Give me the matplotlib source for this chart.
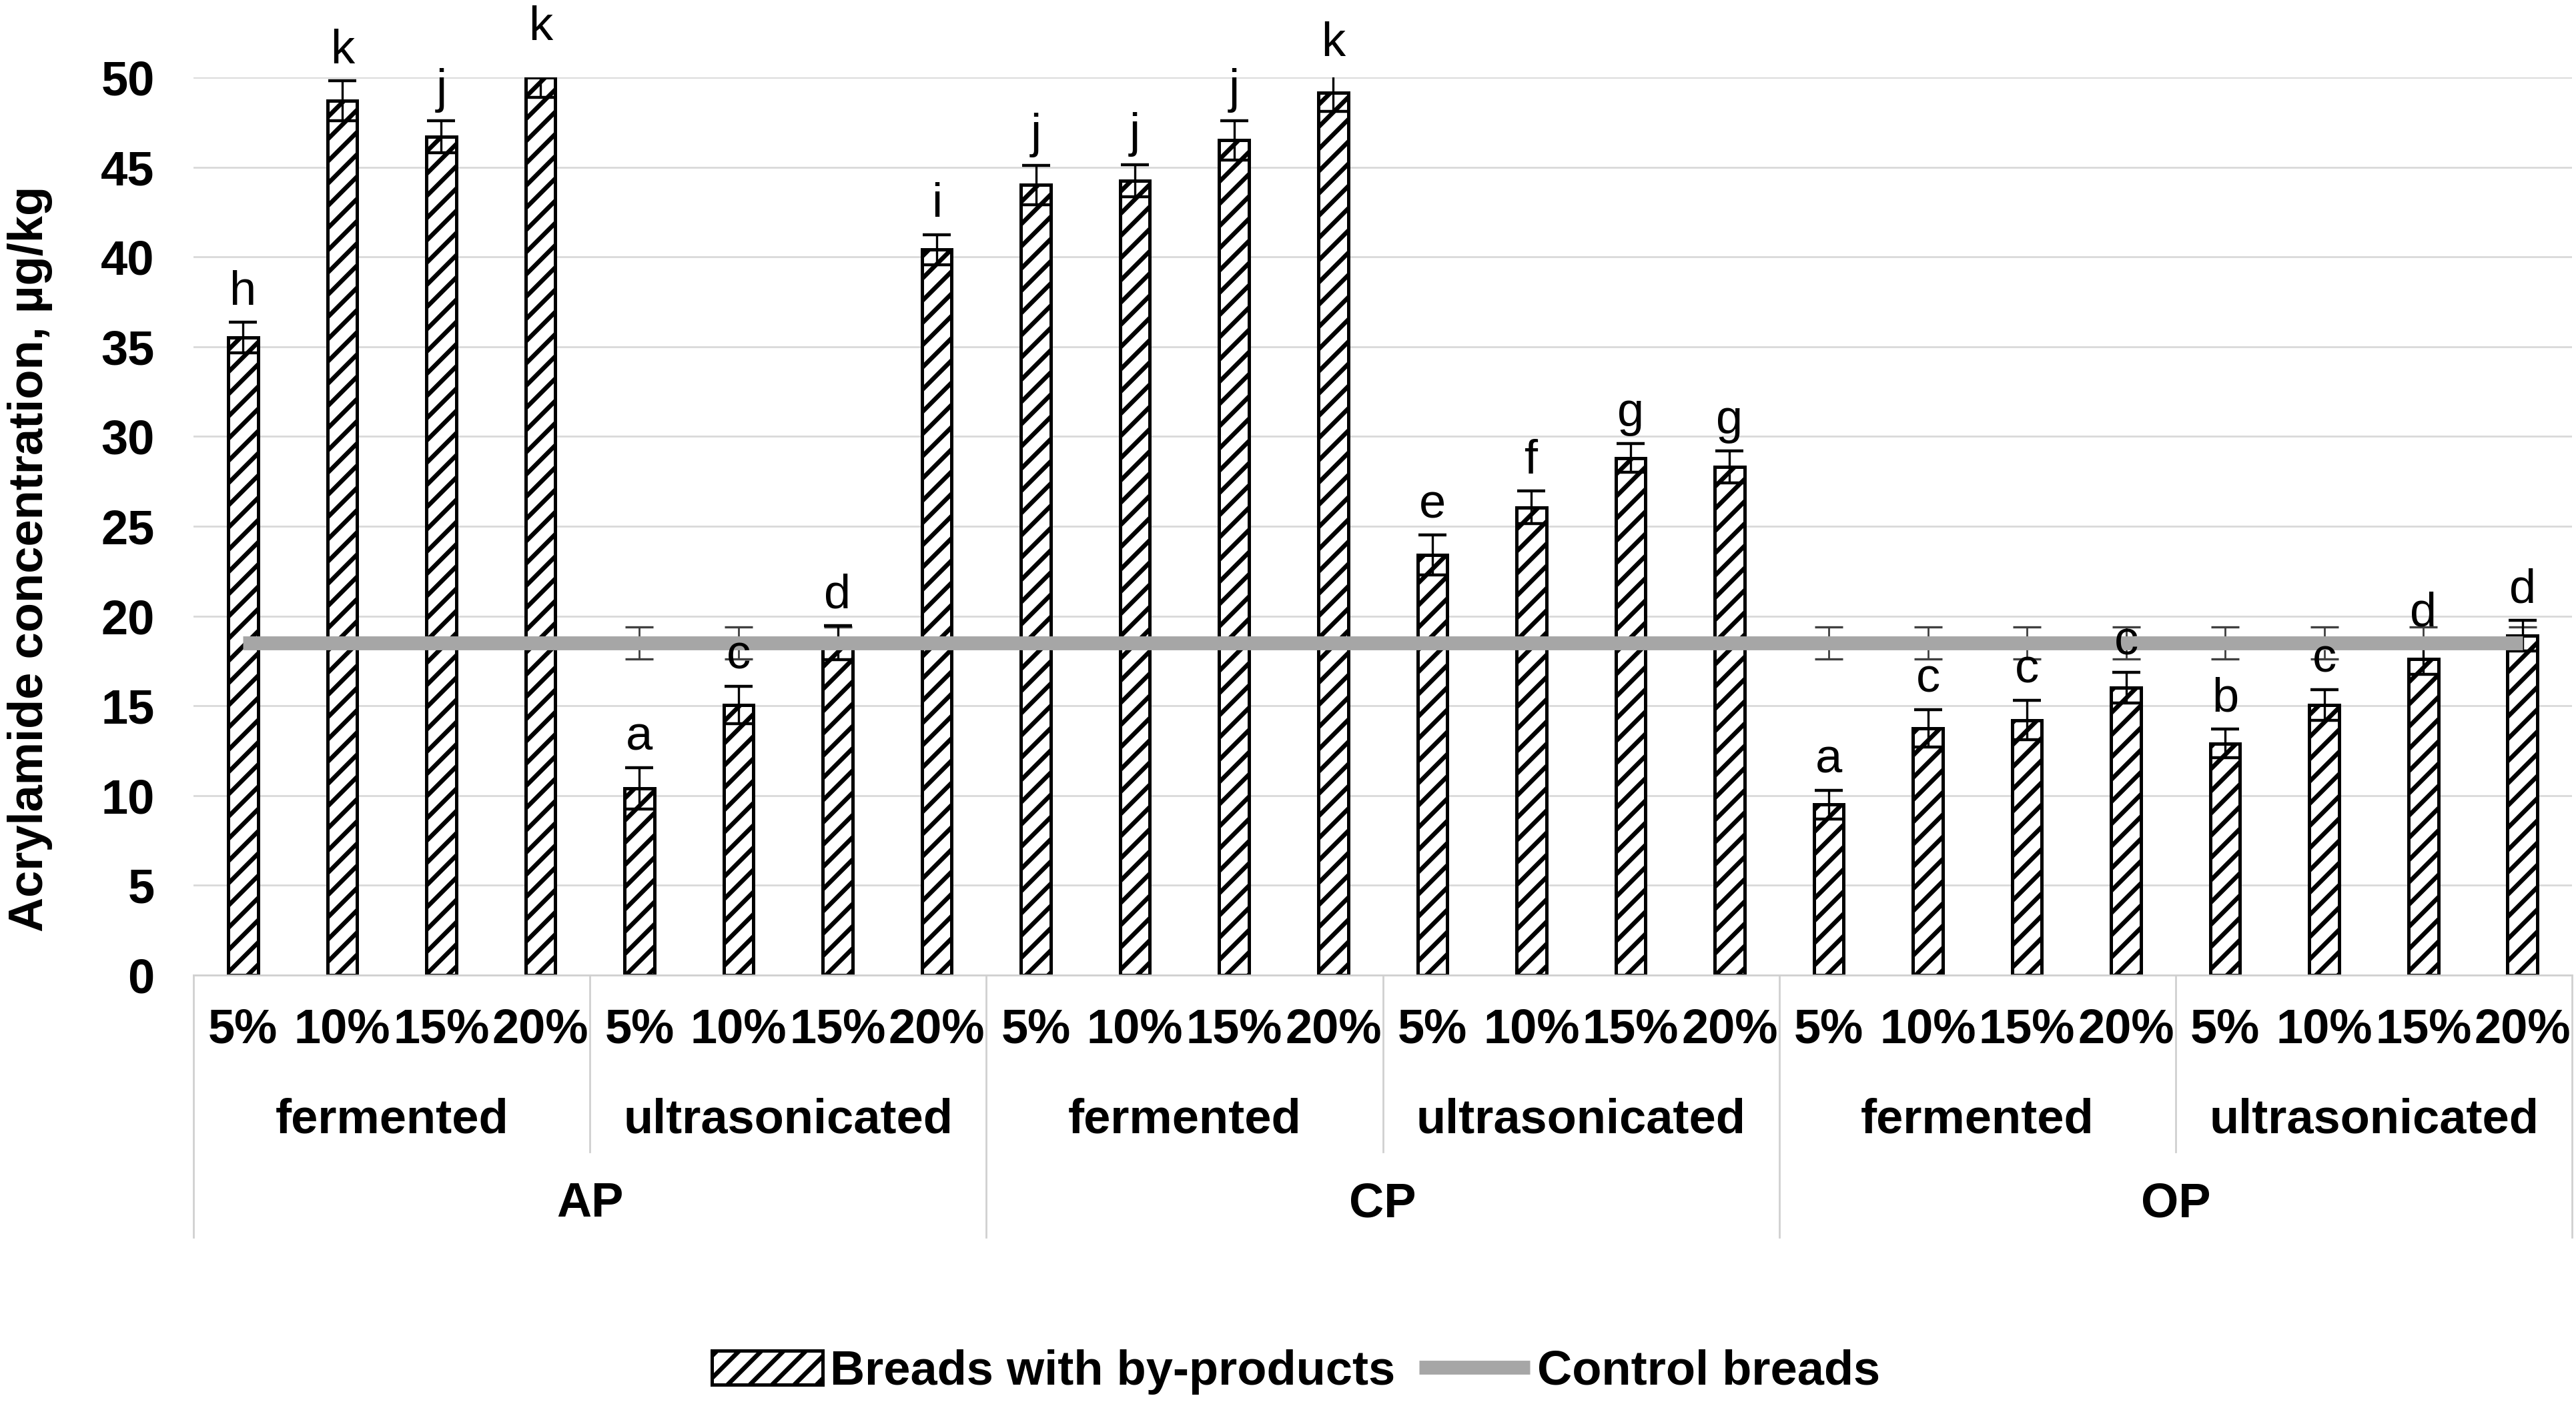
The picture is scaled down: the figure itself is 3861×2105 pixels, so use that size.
import numpy as np
import matplotlib
matplotlib.use('Agg')
import matplotlib.pyplot as plt

products = ['AP', 'CP', 'OP']
treatments = ['fermented', 'ultrasonicated']
levels = ['5%', '10%', '15%', '20%']

# breads with by-products (AP ferm, AP ultra, CP ferm, CP ultra, OP ferm, OP ultra)
means = [35.5, 48.7, 46.7, 50.0,
         10.4, 15.05, 18.5, 40.4,
         44.0, 44.25, 46.5, 49.15,
         23.4, 26.05, 28.8, 28.3,
         9.5, 13.75, 14.2, 16.0,
         12.9, 15.05, 17.6, 18.9]
errs = [0.85, 1.1, 0.9, 1.1,
        1.15, 1.05, 0.95, 0.85,
        1.1, 0.9, 1.1, 1.05,
        1.1, 0.9, 0.8, 0.9,
        0.8, 1.05, 1.1, 0.85,
        0.8, 0.85, 0.85, 0.85]
letters = ['h', 'k', 'j', 'k',
           'a', 'c', 'd', 'i',
           'j', 'j', 'j', 'k',
           'e', 'f', 'g', 'g',
           'a', 'c', 'c', 'c',
           'b', 'c', 'd', 'd']

control_mean = 18.5
control_err = 0.9

plt.rcParams['font.family'] = ['Liberation Sans', 'DejaVu Sans']
plt.rcParams['hatch.linewidth'] = 2.4
plt.rcParams['hatch.color'] = 'black'

fs = 26
n = len(means)
x = np.arange(n)
control = [control_mean] * n

fig = plt.figure(figsize=(19.31, 10.525), dpi=200)
ax = fig.add_axes([0.0751, 0.3055, 0.9231, 0.6394])

ax.errorbar(x, control, yerr=control_err, fmt='none', ecolor='#404040',
            elinewidth=1.0, capsize=7.5, capthick=1.2, zorder=1)
bars = ax.bar(x, means, width=0.30, color='white', edgecolor='black',
              hatch='//', linewidth=1.8, zorder=2, label='Breads with by-products')
ax.errorbar(x, means, yerr=errs, fmt='none', ecolor='black',
            elinewidth=1.2, capsize=7.5, capthick=1.6, zorder=2.5)
line, = ax.plot(x, control, color='#a6a6a6', lw=7.5, solid_capstyle='butt',
                zorder=3, label='Control breads')

for i in range(n):
    ax.annotate(letters[i], (x[i], means[i] + errs[i]), xytext=(0, 9.5),
                textcoords='offset points', ha='center', va='baseline',
                fontsize=fs, annotation_clip=False)

ax.set_xlim(-0.5, n - 0.5)
ax.set_ylim(0, 50)
ax.set_yticks(np.arange(0, 51, 5))
ax.tick_params(axis='y', length=0, pad=21, labelsize=fs)
for t in ax.get_yticklabels():
    t.set_fontweight('bold')
ax.set_xticks([])
ax.yaxis.grid(True, color='#d9d9d9', lw=1.0)
ax.set_axisbelow(True)
for s in ['left', 'right', 'top']:
    ax.spines[s].set_visible(False)
ax.spines['bottom'].set_color('#d0d0d0')
ax.spines['bottom'].set_linewidth(1.0)

# multi-level category axis
tr = ax.get_xaxis_transform()
for i in range(n):
    ax.text(i, -0.0617, levels[i % 4], transform=tr, ha='center', va='center',
            fontsize=fs, fontweight='bold')
for k in range(len(products) * len(treatments)):
    ax.text(4 * k + 1.5, -0.162, treatments[k % 2], transform=tr, ha='center',
            va='center', fontsize=fs, fontweight='bold')
for p, name in enumerate(products):
    ax.text(8 * p + 3.5, -0.255, name, transform=tr, ha='center', va='center',
            fontsize=fs, fontweight='bold')
for k in range(len(products)):
    xs = 8 * k + 3.5
    ax.plot([xs, xs], [0, -0.197], transform=tr, clip_on=False,
            color='#d0d0d0', lw=1.0)
for k in range(len(products) + 1):
    xs = 8 * k - 0.5
    ax.plot([xs, xs], [0, -0.292], transform=tr, clip_on=False,
            color='#d0d0d0', lw=1.0)

fig.text(0.0117, 0.602, 'Acrylamide concentration, µg/kg', rotation=90,
         ha='center', va='center', fontsize=fs, fontweight='bold')

fig.legend([bars, line], ['Breads with by-products', 'Control breads'],
           loc='center', bbox_to_anchor=(0.503, 0.023), ncol=2, frameon=False,
           prop={'size': fs, 'weight': 'bold'}, handlelength=2.3,
           handletextpad=0.15, columnspacing=0.5)

fig.savefig('out.png', dpi=200)
